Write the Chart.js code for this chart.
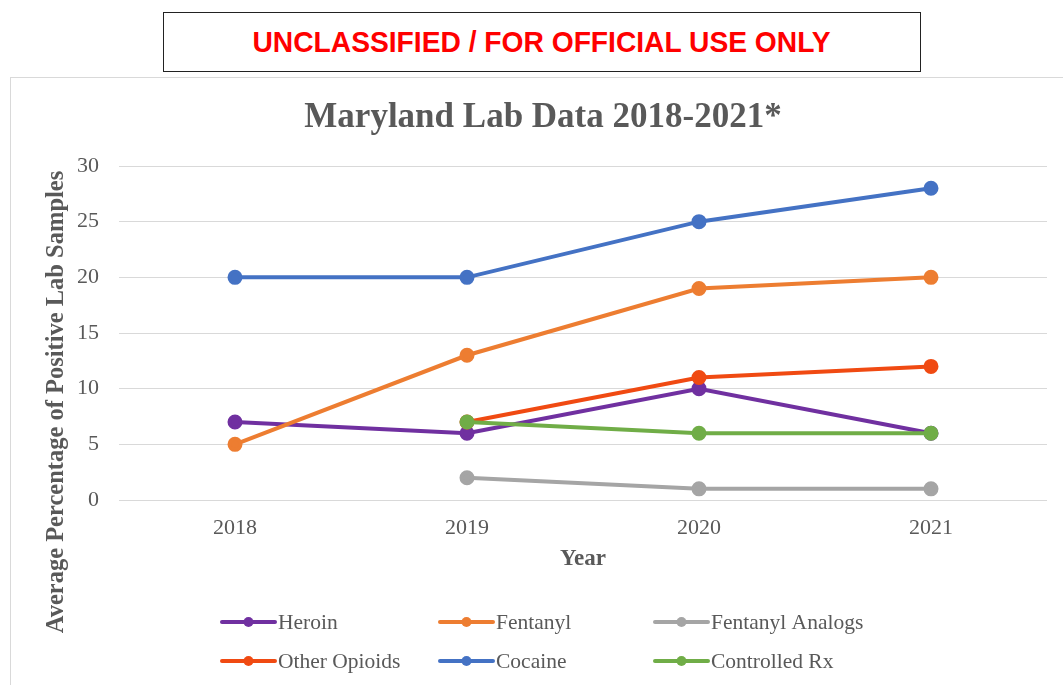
<!DOCTYPE html>
<html>
<head>
<meta charset="utf-8">
<script src="https://cdn.jsdelivr.net/npm/chart.js@4.4.1/dist/chart.umd.min.js"></script>
<style>
  html, body { margin: 0; padding: 0; background: #fff; overflow: hidden; }
  body { width: 1063px; height: 685px; position: relative; }
  #banner {
    position: absolute; left: 163px; top: 12px; width: 758px; height: 60px;
    border: 1.5px solid #222; box-sizing: border-box;
    display: flex; align-items: center; justify-content: center;
  }
  #banner span {
    font-family: "Liberation Sans", Arial, sans-serif; font-weight: bold;
    color: #ff0000; font-size: 30px; display: inline-block;
    transform: scaleX(0.94); white-space: nowrap;
  }
  #frame {
    position: absolute; left: 10px; top: 77px; width: 1100px; height: 700px;
    border: 1px solid #d9d9d9; box-sizing: border-box;
  }
  #wrap { position: absolute; left: 10px; top: 78px; width: 1053px; height: 607px; }
</style>
</head>
<body>
<div id="banner"><span>UNCLASSIFIED / FOR OFFICIAL USE ONLY</span></div>
<div id="frame"></div>
<div id="wrap"><canvas id="chartLab"></canvas></div>
<script>
// --- data ---
const years = ['2018', '2019', '2020', '2021'];
const heroin = [7, 6, 10, 6];
const fentanyl = [5, 13, 19, 20];
const fentanylAnalogs = [null, 2, 1, 1];
const otherOpioids = [null, 7, 11, 12];
const cocaine = [20, 20, 25, 28];
const controlledRx = [null, 7, 6, 6];
const yTicks = [0, 5, 10, 15, 20, 25, 30];

const seriesNames = ['Heroin', 'Fentanyl', 'Fentanyl Analogs', 'Other Opioids', 'Cocaine', 'Controlled Rx'];
const seriesData = [heroin, fentanyl, fentanylAnalogs, otherOpioids, cocaine, controlledRx];
const seriesColors = ['#7030a0', '#ed7d31', '#a5a5a5', '#f04a12', '#4472c4', '#70ad47'];

const serif = '"Liberation Serif", "Times New Roman", serif';
const textGray = '#595959';

// y axis title + legend in fixed spots (Excel style)
const extras = {
    id: 'extras',
    afterDraw(chart) {
        const ctx = chart.ctx;
        ctx.save();
        ctx.fillStyle = textGray;
        ctx.font = 'bold 24.5px ' + serif;
        ctx.textAlign = 'center';
        ctx.textBaseline = 'middle';
        ctx.translate(47, 324);
        ctx.rotate(-Math.PI / 2);
        ctx.fillText('Average Percentage of Positive Lab Samples', 0, 0);
        ctx.restore();

        const cols = [212, 430, 645];
        const rows = [544, 583];
        ctx.save();
        ctx.font = '21.5px ' + serif;
        ctx.textBaseline = 'middle';
        ctx.textAlign = 'left';
        chart.data.datasets.forEach((ds, i) => {
            const x = cols[i % 3], y = rows[Math.floor(i / 3)];
            ctx.strokeStyle = ds.borderColor;
            ctx.lineWidth = 4;
            ctx.lineCap = 'round';
            ctx.beginPath();
            ctx.moveTo(x, y);
            ctx.lineTo(x + 53, y);
            ctx.stroke();
            ctx.fillStyle = ds.borderColor;
            ctx.beginPath();
            ctx.arc(x + 26.5, y, 5, 0, Math.PI * 2);
            ctx.fill();
            ctx.fillStyle = textGray;
            ctx.fillText(ds.label, x + 56, y + 1);
        });
        ctx.restore();
    }
};

const ctxLab = document.getElementById('chartLab').getContext('2d');
new Chart(ctxLab, {
    type: 'line',
    data: {
        labels: years,
        datasets: seriesNames.map((name, i) => ({
            label: name,
            data: seriesData[i],
            borderColor: seriesColors[i],
            backgroundColor: seriesColors[i],
            borderWidth: 4,
            pointRadius: 5.5,
            pointHoverRadius: 6,
            tension: 0,
            order: -i
        }))
    },
    options: {
        responsive: true,
        maintainAspectRatio: false,
        animation: false,
        layout: { padding: { left: 29, right: 16, top: 0, bottom: 108 } },
        plugins: {
            legend: { display: false },
            tooltip: { enabled: false },
            title: {
                display: true,
                text: 'Maryland Lab Data 2018-2021*',
                color: textGray,
                font: { family: serif, size: 35, weight: 'bold' },
                padding: { top: 19, bottom: 27 }
            }
        },
        scales: {
            x: {
                offset: true,
                grid: { display: false },
                border: { display: false },
                ticks: { color: textGray, font: { family: serif, size: 22 }, padding: 7 },
                title: {
                    display: true, text: 'Year', color: textGray,
                    font: { family: serif, size: 23, weight: 'bold' }, padding: { top: 4, bottom: 4 }
                },
                afterFit(scale) { scale.height = 77; }
            },
            y: {
                min: 0, max: 30,
                afterBuildTicks(scale) { scale.ticks = yTicks.map(v => ({ value: v })); },
                grid: { color: '#d9d9d9', lineWidth: 1, drawTicks: false },
                border: { display: false },
                ticks: { color: textGray, font: { family: serif, size: 22 }, padding: 20 },
                afterFit(scale) { scale.width = 80; }
            }
        }
    },
    plugins: [extras]
});
</script>
</body>
</html>
